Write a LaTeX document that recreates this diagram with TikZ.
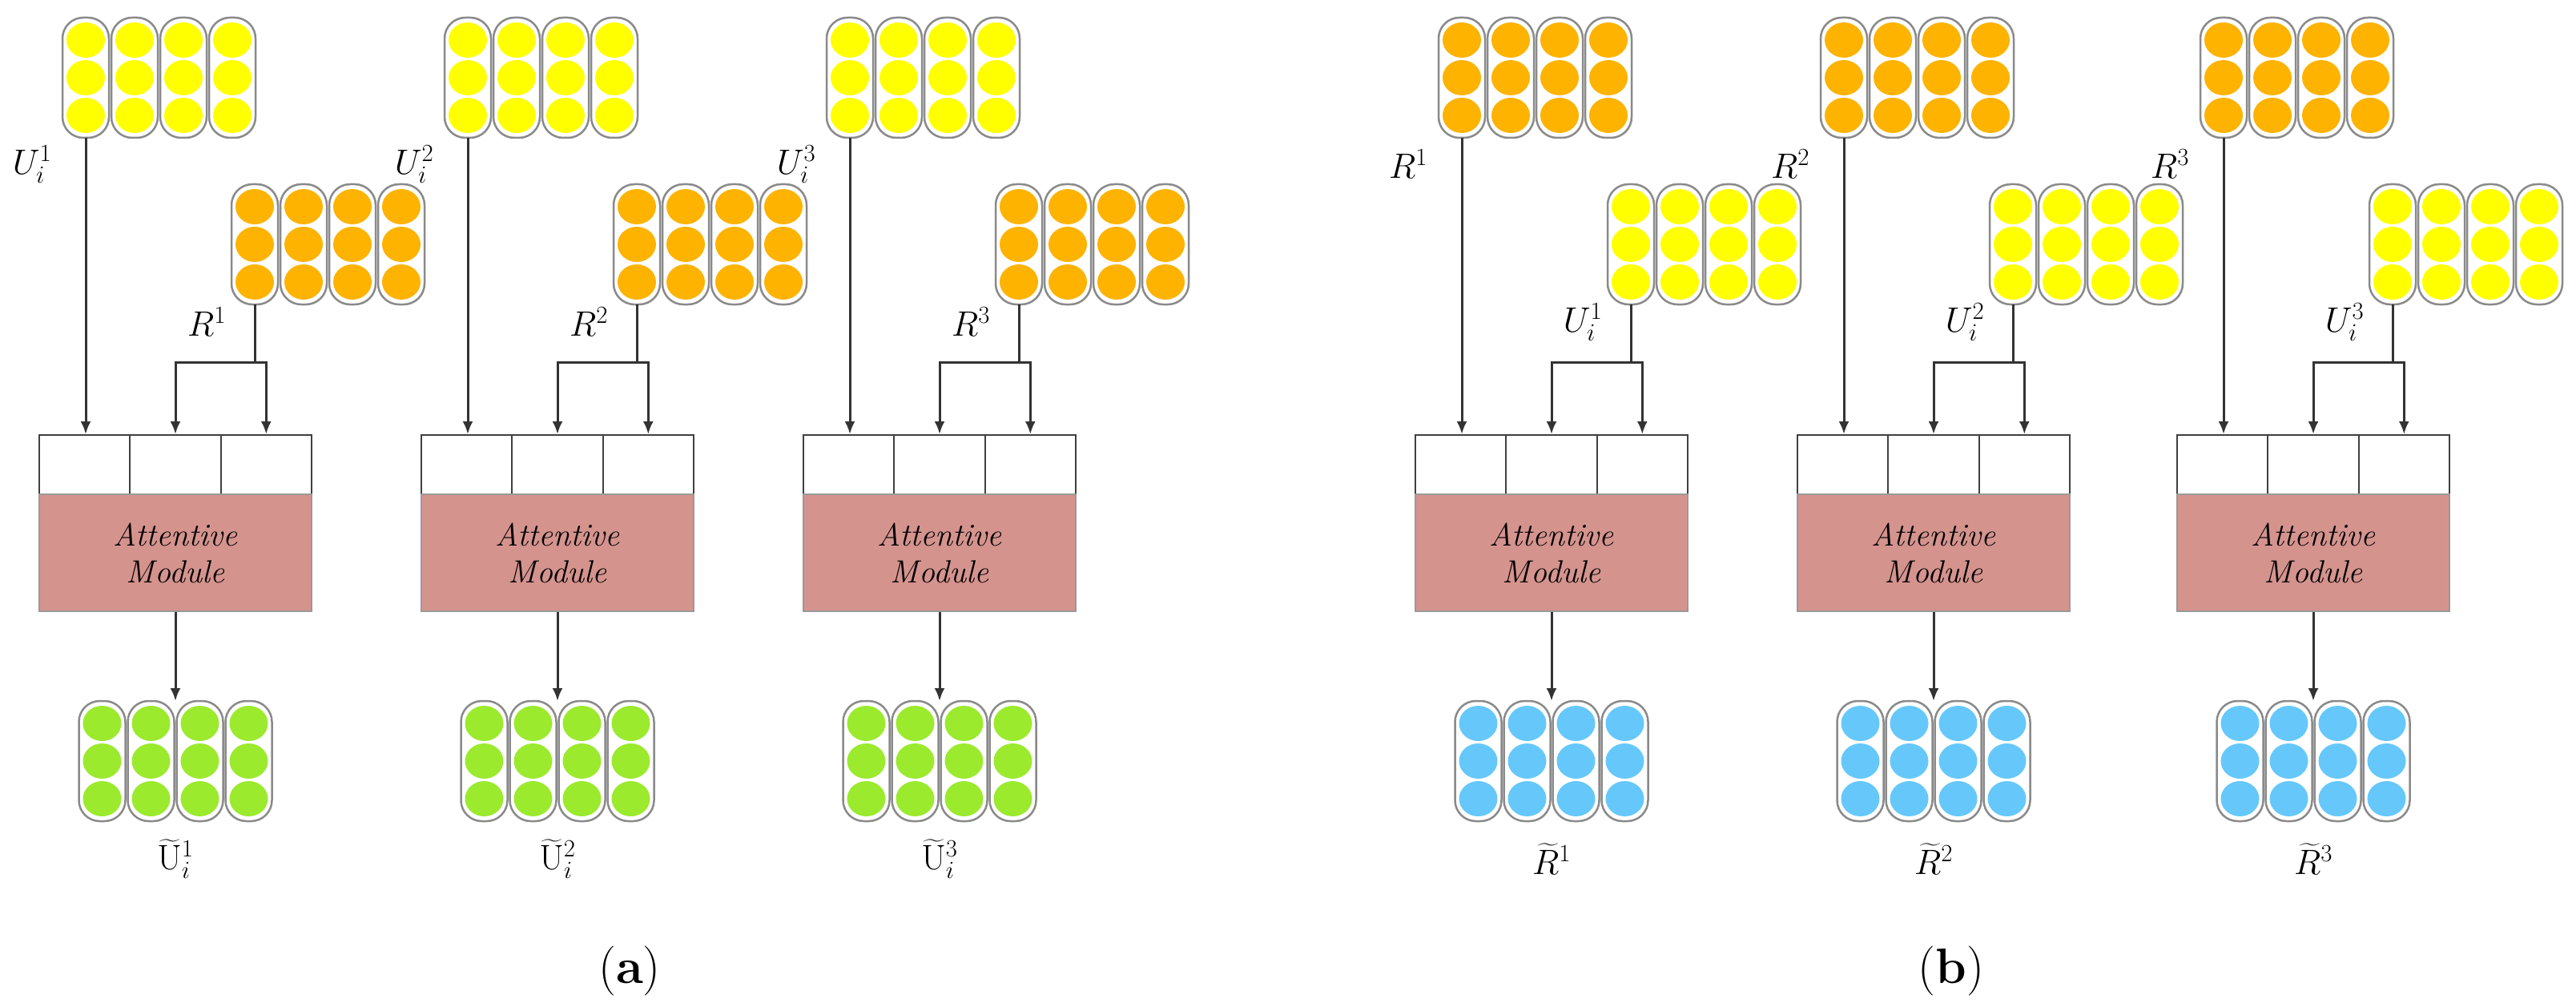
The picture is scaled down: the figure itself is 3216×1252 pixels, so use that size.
\RequirePackage{fix-cm}
\documentclass[tikz,border=0pt]{standalone}
\usepackage{amsmath}
\usetikzlibrary{arrows.meta}
\definecolor{cyel}{HTML}{FFFF00}
\definecolor{corg}{HTML}{FDB300}
\definecolor{cgrn}{HTML}{9BEA2E}
\definecolor{cblu}{HTML}{66C8FA}
\definecolor{cpnk}{HTML}{D5938E}
\definecolor{cedge}{HTML}{8A8A8A}
\tikzset{
  capsule/.style={draw=cedge,line width=2.5pt,fill=white,rounded corners=26pt},
  arr/.style={draw=black!80,line width=3pt,-{Latex[length=16pt,width=13pt]}},
  ln/.style={draw=black!80,line width=3pt},
  cell/.style={draw=black!75,line width=2pt,fill=white,minimum width=113.3pt,minimum height=74pt,inner sep=0pt},
  module/.style={draw=black!40,line width=1.5pt,fill=cpnk,minimum width=340pt,minimum height=146pt,inner sep=0pt,align=center,
     font=\fontsize{40}{46}\selectfont\itshape},
  lab/.style={font=\fontsize{44}{50}\selectfont},
}
% block: x, y(top), color, name
\newcommand\vblock[4]{%
  \foreach \k in {0,1,2,3}{%
    \draw[capsule] (#1+\k*61,#2) rectangle ++(58,150);
    \foreach \j in {28,75,122}{\fill[#3] (#1+\k*61+29,#2+\j) ellipse (24 and 22);}
  }%
  \coordinate (#4b) at (#1+29,#2+150);
  \coordinate (#4t) at (#1+120.5,#2);
}
% unit: dx, topcol, sidecol, outcol, toplab, sidelab, outlab, id
\newcommand\unitblk[8]{%
  \vblock{#1+78}{22}{#2}{t#8}
  \vblock{#1+289}{230}{#3}{s#8}
  \vblock{#1+98.5}{875}{#4}{o#8}
  \node[cell] (ca#8) at (#1+105.7,580) {};
  \node[cell] (cb#8) at (#1+219,580) {};
  \node[cell] (cc#8) at (#1+332.3,580) {};
  \node[module] (m#8) at (#1+219,690) {Attentive\\Module};
  \coordinate (j#8) at (#1+318,452);
  \draw[arr] (t#8b) -- (t#8b |- ca#8.north);
  \draw[ln] (s#8b) -- (j#8);
  \draw[arr] (j#8) -| (cb#8.north);
  \draw[arr] (j#8) -| (cc#8.north);
  \draw[arr] (m#8.south) -- (o#8t);
  \node[lab] (lt#8) at (#1+40,205) {#5};
  \node[lab] (ls#8) at (#1+258,402) {#6};
  \node[lab] (lo#8) at (#1+219,1072) {#7};
}
\begin{document}
\begin{tikzpicture}[x=1pt,y=-1pt]
\useasboundingbox[fill=white] (0,0) rectangle (3216,1252);
\unitblk{0}{cyel}{corg}{cgrn}{$U_i^1$}{$R^1$}{$\widetilde{\mathrm{U}}_i^1$}{a1}
\unitblk{477}{cyel}{corg}{cgrn}{$U_i^2$}{$R^2$}{$\widetilde{\mathrm{U}}_i^2$}{a2}
\unitblk{954}{cyel}{corg}{cgrn}{$U_i^3$}{$R^3$}{$\widetilde{\mathrm{U}}_i^3$}{a3}
\unitblk{1718}{corg}{cyel}{cblu}{$R^1$}{$U_i^1$}{$\widetilde{R}^1$}{b1}
\unitblk{2195}{corg}{cyel}{cblu}{$R^2$}{$U_i^2$}{$\widetilde{R}^2$}{b2}
\unitblk{2669}{corg}{cyel}{cblu}{$R^3$}{$U_i^3$}{$\widetilde{R}^3$}{b3}
\node[font=\fontsize{62}{70}\selectfont] (capa) at (786,1212) {(\textbf{a})};
\node[font=\fontsize{62}{70}\selectfont] (capb) at (2436,1212) {(\textbf{b})};
\end{tikzpicture}
\end{document}
